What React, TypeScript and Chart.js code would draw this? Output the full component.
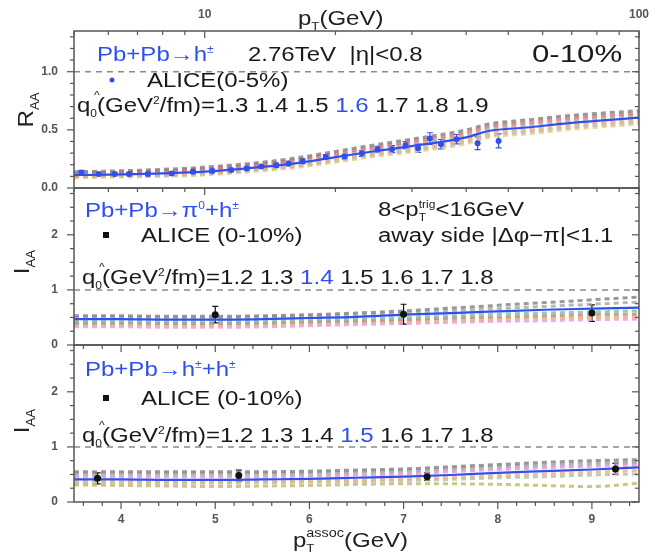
import React, { useEffect, useRef } from 'react';
import { Chart, registerables } from 'chart.js';
Chart.register(...registerables);

const FONT = '"Liberation Sans", Arial, sans-serif';
const BLUE = '#3050ee';
const TXT = '#1a1a1a';

// ---------- Top panel: R_AA vs pT (log axis 5-100) ----------
const topPt = [5, 6, 8, 10, 13, 16, 20, 25, 30, 40, 45, 55, 70, 100];
const rQ13 = [0.14, 0.145, 0.16, 0.18, 0.215, 0.255, 0.315, 0.375, 0.42, 0.5, 0.55, 0.585, 0.625, 0.665];
const rQ14 = [0.13, 0.135, 0.148, 0.165, 0.2, 0.24, 0.297, 0.355, 0.4, 0.478, 0.53, 0.563, 0.603, 0.643];
const rQ15 = [0.12, 0.125, 0.136, 0.152, 0.187, 0.225, 0.281, 0.337, 0.38, 0.456, 0.51, 0.541, 0.581, 0.624];
const rQ16 = [0.11, 0.115, 0.125, 0.14, 0.175, 0.21, 0.265, 0.32, 0.36, 0.435, 0.49, 0.52, 0.56, 0.605];
const rQ17 = [0.102, 0.107, 0.116, 0.13, 0.164, 0.197, 0.25, 0.304, 0.342, 0.415, 0.47, 0.5, 0.54, 0.585];
const rQ18 = [0.095, 0.1, 0.108, 0.121, 0.153, 0.185, 0.236, 0.289, 0.325, 0.397, 0.452, 0.482, 0.522, 0.567];
const rQ19 = [0.088, 0.093, 0.1, 0.112, 0.143, 0.174, 0.223, 0.275, 0.31, 0.38, 0.435, 0.465, 0.505, 0.55];

const aliceTopPt = [5.2, 5.7, 6.2, 6.7, 7.4, 8.4, 9.4, 10.4, 11.5, 12.5, 13.5, 14.6, 15.6, 16.8, 19, 21, 23, 25, 27, 29, 31, 33, 35, 38, 42.5, 47.5];
const aliceTopRaa = [0.132, 0.12, 0.12, 0.12, 0.12, 0.125, 0.14, 0.147, 0.155, 0.167, 0.184, 0.195, 0.21, 0.23, 0.267, 0.27, 0.296, 0.334, 0.334, 0.368, 0.342, 0.425, 0.377, 0.42, 0.385, 0.405];
const aliceTopErr = [0.02, 0.015, 0.015, 0.015, 0.015, 0.015, 0.015, 0.015, 0.015, 0.015, 0.015, 0.02, 0.02, 0.02, 0.02, 0.02, 0.025, 0.025, 0.03, 0.03, 0.035, 0.05, 0.04, 0.04, 0.055, 0.06];

// ---------- Middle & bottom panels: I_AA vs pT assoc ----------
const assocPt = [3.5, 4, 4.5, 5, 5.5, 6, 6.5, 7, 7.5, 8, 8.5, 9, 9.5];
const mQ12 = [0.53, 0.53, 0.52, 0.52, 0.53, 0.55, 0.58, 0.62, 0.67, 0.72, 0.77, 0.82, 0.87];
const mQ13 = [0.5, 0.5, 0.49, 0.49, 0.5, 0.52, 0.54, 0.58, 0.62, 0.66, 0.7, 0.74, 0.78];
const mQ14 = [0.47, 0.47, 0.46, 0.46, 0.47, 0.49, 0.51, 0.55, 0.58, 0.61, 0.64, 0.66, 0.68];
const mQ15 = [0.43, 0.43, 0.42, 0.42, 0.43, 0.45, 0.47, 0.5, 0.53, 0.56, 0.58, 0.6, 0.62];
const mQ16 = [0.4, 0.4, 0.39, 0.39, 0.4, 0.42, 0.44, 0.46, 0.49, 0.51, 0.53, 0.55, 0.56];
const mQ17 = [0.37, 0.37, 0.36, 0.36, 0.37, 0.39, 0.41, 0.43, 0.45, 0.47, 0.49, 0.5, 0.51];
const mQ18 = [0.33, 0.33, 0.32, 0.32, 0.33, 0.35, 0.37, 0.39, 0.41, 0.43, 0.44, 0.46, 0.47];
const aliceMidPt = [5, 7, 9];
const aliceMidIaa = [0.55, 0.56, 0.58];
const aliceMidErr = [0.15, 0.18, 0.15];

const bQ12 = [0.55, 0.55, 0.55, 0.55, 0.55, 0.56, 0.58, 0.6, 0.64, 0.68, 0.72, 0.75, 0.77];
const bQ13 = [0.51, 0.51, 0.51, 0.51, 0.51, 0.52, 0.54, 0.56, 0.6, 0.64, 0.67, 0.7, 0.72];
const bQ14 = [0.46, 0.46, 0.46, 0.46, 0.46, 0.47, 0.49, 0.51, 0.55, 0.59, 0.62, 0.65, 0.67];
const bQ15 = [0.41, 0.41, 0.4, 0.4, 0.41, 0.42, 0.44, 0.46, 0.49, 0.53, 0.56, 0.59, 0.63];
const bQ16 = [0.38, 0.38, 0.37, 0.37, 0.38, 0.39, 0.4, 0.42, 0.45, 0.48, 0.51, 0.54, 0.57];
const bQ17 = [0.35, 0.35, 0.34, 0.34, 0.35, 0.36, 0.37, 0.39, 0.41, 0.44, 0.46, 0.49, 0.51];
const bQ18 = [0.31, 0.3, 0.29, 0.28, 0.29, 0.3, 0.32, 0.33, 0.33, 0.32, 0.3, 0.28, 0.34];
const aliceBotPt = [3.75, 5.25, 7.25, 9.25];
const aliceBotIaa = [0.43, 0.48, 0.46, 0.6];
const aliceBotErr = [0.1, 0.1, 0.07, 0.1];

// ---------- ticks ----------
const topYTicks = [0, 0.5, 1.0];
const topYMinor = [0.1, 0.2, 0.3, 0.4, 0.6, 0.7, 0.8, 0.9, 1.1, 1.2, 1.3];
const iaaYTicks = [0, 1, 2];
const iaaYMinor = [0.25, 0.5, 0.75, 1.25, 1.5, 1.75, 2.25, 2.5, 2.75];
const xTicks = [4, 5, 6, 7, 8, 9];
const xMinor = [3.6, 3.8, 4.2, 4.4, 4.6, 4.8, 5.2, 5.4, 5.6, 5.8, 6.2, 6.4, 6.6, 6.8, 7.2, 7.4, 7.6, 7.8, 8.2, 8.4, 8.6, 8.8, 9.2, 9.4];
const logTicks = [10, 100];
const logMinor = [5, 6, 7, 8, 9, 20, 30, 40, 50, 60, 70, 80, 90];

const pts = (xs: number[], ys: number[]) => xs.map((x, i) => ({ x, y: ys[i] }));

function curve(xs: number[], ys: number[], color: string, xAxisID: string, yAxisID: string, solid = false) {
  return {
    data: pts(xs, ys), xAxisID, yAxisID, showLine: true, pointRadius: 0,
    borderColor: color, borderWidth: solid ? 2.2 : 3, borderDash: solid ? [] : [5, 4],
    cubicInterpolationMode: 'monotone', order: solid ? 2 : 5,
  } as any;
}
function refLine(x0: number, x1: number, xAxisID: string, yAxisID: string) {
  return {
    data: [{ x: x0, y: 1 }, { x: x1, y: 1 }], xAxisID, yAxisID, showLine: true, pointRadius: 0,
    borderColor: '#8a8a8a', borderWidth: 1.5, borderDash: [6, 5], order: 9,
  } as any;
}
function dataSet(xs: number[], ys: number[], errs: number[], color: string, r: number, xAxisID: string, yAxisID: string) {
  return {
    data: pts(xs, ys), errs, errColor: color, xAxisID, yAxisID, showLine: false,
    pointRadius: r, pointBackgroundColor: color, pointBorderColor: color, pointBorderWidth: 0, order: 0,
  } as any;
}

type Seg = { t: string; s?: number; dy?: number; c?: string; adv?: boolean; dx?: number };
function richWidth(ctx: CanvasRenderingContext2D, segs: Seg[], base: number) {
  let w = 0;
  for (const g of segs) {
    ctx.font = `${g.s ?? base}px ${FONT}`;
    if (g.adv !== false) w += ctx.measureText(g.t).width;
  }
  return w;
}
function drawRich(ctx: CanvasRenderingContext2D, x: number, yMid: number, segs: Seg[], base = 20, sx = 1.2, color = TXT, rot = 0, center = false) {
  ctx.save();
  ctx.translate(x, yMid);
  if (rot) ctx.rotate(rot);
  ctx.scale(sx, 1);
  ctx.textBaseline = 'alphabetic';
  ctx.textAlign = 'left';
  let cx = center ? -richWidth(ctx, segs, base) / 2 : 0;
  const by = base * 0.36;
  for (const g of segs) {
    const size = g.s ?? base;
    ctx.font = `${size}px ${FONT}`;
    ctx.fillStyle = g.c ?? color;
    ctx.fillText(g.t, cx + (g.dx ?? 0), by + (g.dy ?? 0));
    if (g.adv !== false) cx += ctx.measureText(g.t).width;
  }
  ctx.restore();
}

const decorPlugin = {
  id: 'decor',
  beforeDatasetsDraw(chart: any) {
    const ctx: CanvasRenderingContext2D = chart.ctx;
    chart.data.datasets.forEach((ds: any) => {
      if (!ds.errs) return;
      const xs = chart.scales[ds.xAxisID];
      const ys = chart.scales[ds.yAxisID];
      ctx.save();
      ctx.strokeStyle = ds.errColor;
      ctx.lineWidth = 1.2;
      ds.data.forEach((p: any, i: number) => {
        const x = xs.getPixelForValue(p.x);
        const y1 = ys.getPixelForValue(p.y - ds.errs[i]);
        const y2 = ys.getPixelForValue(p.y + ds.errs[i]);
        ctx.beginPath();
        ctx.moveTo(x, y1); ctx.lineTo(x, y2);
        ctx.moveTo(x - 3, y1); ctx.lineTo(x + 3, y1);
        ctx.moveTo(x - 3, y2); ctx.lineTo(x + 3, y2);
        ctx.stroke();
      });
      ctx.restore();
    });
  },
  afterDraw(chart: any) {
    const ctx: CanvasRenderingContext2D = chart.ctx;
    const { left, right } = chart.chartArea;
    const s1 = chart.scales.y1, s2 = chart.scales.y2, s3 = chart.scales.y3;
    const xs = chart.scales.x, xt = chart.scales.xTop;
    ctx.save();
    ctx.strokeStyle = '#555';
    ctx.lineWidth = 1.5;
    for (const s of [s1, s2, s3]) ctx.strokeRect(left, s.top, right - left, s.bottom - s.top);
    ctx.lineWidth = 1.2;
    const line = (x0: number, y0: number, x1: number, y1: number) => { ctx.beginPath(); ctx.moveTo(x0, y0); ctx.lineTo(x1, y1); ctx.stroke(); };
    const yTicks = (s: any, maj: number[], min: number[]) => {
      for (const v of maj) { const y = s.getPixelForValue(v); line(left - 7, y, left, y); line(right - 7, y, right, y); }
      for (const v of min) { const y = s.getPixelForValue(v); line(left - 4, y, left, y); line(right - 4, y, right, y); }
    };
    yTicks(s1, topYTicks, topYMinor);
    yTicks(s2, iaaYTicks, iaaYMinor);
    yTicks(s3, iaaYTicks, iaaYMinor);
    // log ticks on top edge and bottom edge of the top panel (pointing down)
    for (const yy of [s1.top, s1.bottom]) {
      for (const v of logTicks) { const x = xt.getPixelForValue(v); line(x, yy, x, yy + 7); }
      for (const v of logMinor) { const x = xt.getPixelForValue(v); line(x, yy, x, yy + 4); }
    }
    // linear ticks on top of bottom panel (down) and bottom axis (outward)
    for (const v of xTicks) { const x = xs.getPixelForValue(v); line(x, s3.top, x, s3.top + 7); line(x, s3.bottom, x, s3.bottom + 7); }
    for (const v of xMinor) { const x = xs.getPixelForValue(v); line(x, s3.top, x, s3.top + 4); line(x, s3.bottom, x, s3.bottom + 4); }
    ctx.restore();

    // legend markers
    ctx.save();
    ctx.fillStyle = BLUE;
    ctx.beginPath(); ctx.arc(112, 80, 2.5, 0, Math.PI * 2); ctx.fill();
    ctx.fillStyle = '#111';
    ctx.fillRect(103, 232, 6, 6);
    ctx.fillRect(103, 395, 6, 6);
    ctx.restore();

    // axis titles
    drawRich(ctx, 298, 18, [{ t: 'p' }, { t: 'T', s: 11, dy: 5 }, { t: '(GeV)' }], 20, 1.2, '#222');
    drawRich(ctx, 293, 540, [{ t: 'p' }, { t: 'T', s: 11, dy: 5, adv: false }, { t: 'assoc', s: 12, dy: -10 }, { t: '(GeV)' }], 20, 1.2, '#222');
    drawRich(ctx, 25, 110, [{ t: 'R', s: 22 }, { t: 'AA', s: 12, dy: 6 }], 22, 1.1, '#222', -Math.PI / 2, true);
    drawRich(ctx, 21, 262, [{ t: 'I', s: 22 }, { t: 'AA', s: 12, dy: 6 }], 22, 1.1, '#222', -Math.PI / 2, true);
    drawRich(ctx, 21, 421, [{ t: 'I', s: 22 }, { t: 'AA', s: 12, dy: 6 }], 22, 1.1, '#222', -Math.PI / 2, true);

    // top panel annotations
    drawRich(ctx, 97, 54, [{ t: 'Pb+Pb→h' }, { t: '±', s: 10, dy: -8 }], 20, 1.2, BLUE);
    drawRich(ctx, 248, 54, [{ t: '2.76TeV  |η|<0.8' }]);
    drawRich(ctx, 532, 53, [{ t: '0-10%' }], 24, 1.3);
    drawRich(ctx, 147, 80, [{ t: 'ALICE(0-5%)' }]);
    const qPrefix: Seg[] = [{ t: 'q' }, { t: '^', s: 10, dy: -13, dx: 3, adv: false }, { t: '0', s: 10, dy: 5 }, { t: '(GeV' }, { t: '2', s: 10, dy: -8 }, { t: '/fm)=' }];
    drawRich(ctx, 77, 105, [...qPrefix, { t: '1.3 1.4 1.5 ' }, { t: '1.6', c: BLUE }, { t: ' 1.7 1.8 1.9' }]);

    // middle panel annotations
    drawRich(ctx, 85, 210, [{ t: 'Pb+Pb→π' }, { t: '0', s: 10, dy: -8 }, { t: '+h' }, { t: '±', s: 10, dy: -8 }], 20, 1.2, BLUE);
    drawRich(ctx, 378, 209, [{ t: '8<p' }, { t: 'T', s: 10, dy: 5, adv: false }, { t: 'trig', s: 10, dy: -8 }, { t: '<16GeV' }]);
    drawRich(ctx, 141, 235, [{ t: 'ALICE (0-10%)' }]);
    drawRich(ctx, 378, 235, [{ t: 'away side |Δφ−π|<1.1' }]);
    drawRich(ctx, 82, 277, [...qPrefix, { t: '1.2 1.3 ' }, { t: '1.4', c: BLUE }, { t: ' 1.5 1.6 1.7 1.8' }]);

    // bottom panel annotations
    drawRich(ctx, 85, 369, [{ t: 'Pb+Pb→h' }, { t: '±', s: 10, dy: -8 }, { t: '+h' }, { t: '±', s: 10, dy: -8 }], 20, 1.2, BLUE);
    drawRich(ctx, 141, 398, [{ t: 'ALICE (0-10%)' }]);
    drawRich(ctx, 82, 435, [...qPrefix, { t: '1.2 1.3 1.4 ' }, { t: '1.5', c: BLUE }, { t: ' 1.6 1.7 1.8' }]);
  },
};

const tickFont = { family: FONT, size: 12, weight: 'bold' as const };

function yScale(max: number, ticks: number[], fmt: (v: number) => string) {
  return {
    type: 'linear', position: 'left', stack: 'panels', stackWeight: 1, min: 0, max,
    grid: { display: false, drawTicks: false }, border: { display: false },
    ticks: { font: tickFont, color: '#555', padding: 16, callback: (v: any) => fmt(Number(v)) },
    afterBuildTicks: (s: any) => { s.ticks = ticks.map((value) => ({ value })); },
    afterFit: (s: any) => { s.width = 74; },
  } as any;
}

export default function App() {
  const ref = useRef<HTMLCanvasElement>(null);
  useEffect(() => {
    const datasets: any[] = [
      // top
      dataSet(aliceTopPt, aliceTopRaa, aliceTopErr, BLUE, 3, 'xTop', 'y1'),
      curve(topPt, rQ16, BLUE, 'xTop', 'y1', true),
      curve(topPt, rQ13, 'rgba(128,128,128,0.8)', 'xTop', 'y1'),
      curve(topPt, rQ14, 'rgba(232,110,110,0.8)', 'xTop', 'y1'),
      curve(topPt, rQ15, 'rgba(165,165,165,0.8)', 'xTop', 'y1'),
      curve(topPt, rQ17, 'rgba(240,170,120,0.8)', 'xTop', 'y1'),
      curve(topPt, rQ18, 'rgba(185,185,185,0.8)', 'xTop', 'y1'),
      curve(topPt, rQ19, 'rgba(232,205,110,0.8)', 'xTop', 'y1'),
      refLine(5, 100, 'xTop', 'y1'),
      // middle
      dataSet(aliceMidPt, aliceMidIaa, aliceMidErr, '#111', 3.5, 'x', 'y2'),
      curve(assocPt, mQ14, BLUE, 'x', 'y2', true),
      curve(assocPt, mQ12, 'rgba(128,128,128,0.8)', 'x', 'y2'),
      curve(assocPt, mQ13, 'rgba(165,165,165,0.8)', 'x', 'y2'),
      curve(assocPt, mQ15, 'rgba(120,190,180,0.8)', 'x', 'y2'),
      curve(assocPt, mQ16, 'rgba(190,140,110,0.8)', 'x', 'y2'),
      curve(assocPt, mQ17, 'rgba(240,170,110,0.8)', 'x', 'y2'),
      curve(assocPt, mQ18, 'rgba(230,150,240,0.8)', 'x', 'y2'),
      refLine(3.5, 9.5, 'x', 'y2'),
      // bottom
      dataSet(aliceBotPt, aliceBotIaa, aliceBotErr, '#111', 3.5, 'x', 'y3'),
      curve(assocPt, bQ15, BLUE, 'x', 'y3', true),
      curve(assocPt, bQ12, 'rgba(128,128,128,0.8)', 'x', 'y3'),
      curve(assocPt, bQ13, 'rgba(160,160,160,0.8)', 'x', 'y3'),
      curve(assocPt, bQ14, 'rgba(225,140,225,0.8)', 'x', 'y3'),
      curve(assocPt, bQ16, 'rgba(240,175,125,0.8)', 'x', 'y3'),
      curve(assocPt, bQ17, 'rgba(175,190,160,0.8)', 'x', 'y3'),
      curve(assocPt, bQ18, 'rgba(200,185,110,0.85)', 'x', 'y3'),
      refLine(3.5, 9.5, 'x', 'y3'),
    ];
    const chart = new Chart(ref.current as HTMLCanvasElement, {
      type: 'scatter',
      data: { datasets },
      options: {
        responsive: false,
        animation: false,
        devicePixelRatio: 1,
        layout: { padding: { left: 0, right: 19, top: 0, bottom: 0 } },
        plugins: { legend: { display: false }, tooltip: { enabled: false } },
        scales: {
          x: {
            type: 'linear', position: 'bottom', min: 3.5, max: 9.5,
            grid: { display: false, drawTicks: false }, border: { display: false },
            ticks: { font: tickFont, color: '#555', padding: 10, callback: (v: any) => String(v) },
            afterBuildTicks: (s: any) => { s.ticks = xTicks.map((value) => ({ value })); },
            afterFit: (s: any) => { s.height = 52; },
          },
          xTop: {
            type: 'logarithmic', position: 'top', min: 5, max: 100,
            grid: { display: false, drawTicks: false }, border: { display: false },
            ticks: { font: tickFont, color: '#555', padding: 9, callback: (v: any) => String(v) },
            afterBuildTicks: (s: any) => { s.ticks = logTicks.map((value) => ({ value })); },
            afterFit: (s: any) => { s.height = 31; },
          },
          y3: yScale(2.85, iaaYTicks, (v) => String(v)),
          y2: yScale(2.85, iaaYTicks, (v) => String(v)),
          y1: yScale(1.35, topYTicks, (v) => v.toFixed(1)),
        } as any,
      },
      plugins: [decorPlugin],
    } as any);
    return () => chart.destroy();
  }, []);
  return (
    <div style={{ position: 'fixed', left: 0, top: 0, width: 658, height: 554, background: '#fff' }}>
      <canvas ref={ref} width={658} height={554} style={{ display: 'block' }} />
    </div>
  );
}
